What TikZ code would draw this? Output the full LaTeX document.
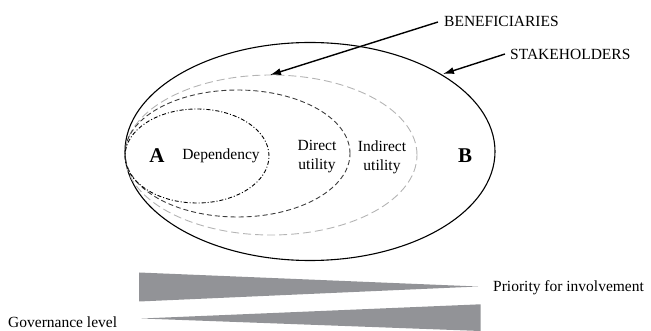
\documentclass[tikz,border=0pt]{standalone}
\usepackage{fontspec}
\setmainfont{Liberation Serif}
\usetikzlibrary{arrows.meta}
\definecolor{wedge}{HTML}{929397}
\definecolor{lgray}{HTML}{B4B4B4}
\definecolor{dgray}{HTML}{3C3C3C}
\tikzset{
  lbl/.style={font=\fontsize{15.5}{19}\selectfont, inner sep=0pt, align=center},
  big/.style={font=\fontsize{21}{24}\selectfont\bfseries, inner sep=0pt},
  pointer/.style={line width=1.4pt, -{Latex[length=11pt,width=7pt]}},
  wedgefill/.style={fill=wedge, draw=none}
}
\begin{document}
\begin{tikzpicture}[x=1pt,y=-1pt]
\useasboundingbox (0,0) rectangle (651,331);
% ellipses
\draw[line width=1.1pt] (310,151.5) ellipse [x radius=185pt, y radius=109pt];
\draw[lgray, line width=0.9pt, dash pattern=on 8pt off 4pt] (271,155) ellipse [x radius=146pt, y radius=80pt];
\draw[dgray, line width=0.9pt, dash pattern=on 5pt off 3pt] (237.5,153.5) ellipse [x radius=112.5pt, y radius=63.5pt];
\draw[black, line width=0.9pt, dash pattern=on 4pt off 2pt on 1pt off 2pt] (197,156) ellipse [x radius=72pt, y radius=47pt];
\coordinate (benT) at (270,75);
\coordinate (stkT) at (443,74);
% labels
\node[big] (A) at (157,156) {A};
\node[big] (B) at (465,156) {B};
\node[lbl] (dep) at (221,156) {Dependency};
\node[lbl] (dir) at (317,157) {Direct\\utility};
\node[lbl] (ind) at (382,157) {Indirect\\utility};
\node[lbl, anchor=west] (ben) at (444,21) {BENEFICIARIES};
\node[lbl, anchor=west] (stk) at (510,54) {STAKEHOLDERS};
\draw[pointer] (ben.west) ++(-6pt,-1pt) coordinate (benS) -- (benT);
\draw[pointer] (stk.west) ++(-5pt,0) coordinate (stkS) -- (stkT);
% wedges
\fill[wedgefill] (139,272.5) -- (478,286.5) -- (139,301.5) -- cycle;
\fill[wedgefill] (141.5,318.5) -- (480.5,304.3) -- (480.5,331) -- cycle;
\node[lbl, anchor=west] (pri) at (493,288) {Priority for involvement};
\node[lbl, anchor=west] (gov) at (8,322) {Governance level};
\end{tikzpicture}
\end{document}
